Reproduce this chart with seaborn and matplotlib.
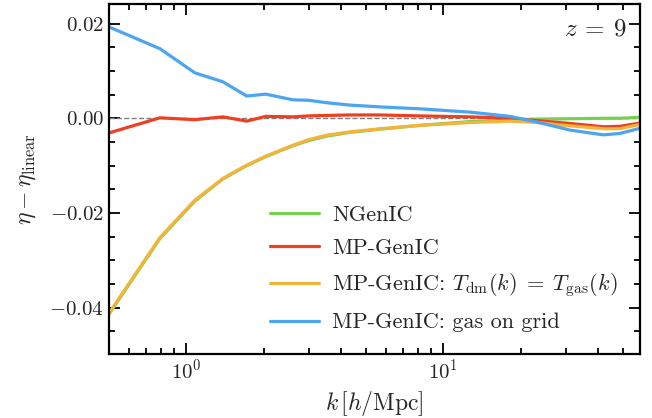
import numpy as np
import pandas as pd
import seaborn as sns
import matplotlib.pyplot as plt
from matplotlib.ticker import FuncFormatter, MultipleLocator

sns.set_theme(style="ticks")
plt.rcParams["font.family"] = "serif"
plt.rcParams["font.serif"] = ["cmr10", "DejaVu Serif"]
plt.rcParams["mathtext.fontset"] = "cm"
plt.rcParams["axes.formatter.use_mathtext"] = True

k = [0.5, 0.79, 1.08, 1.39, 1.72, 2.04, 2.6, 3.0, 3.5, 4.3, 5.7, 8.1,
     12.7, 18.2, 23.2, 31.2, 42.0, 48.8, 58.5]

ngenic = [-0.0414, -0.0254, -0.0175, -0.0128, -0.0100, -0.0081, -0.0058, -0.0047,
          -0.0038, -0.0030, -0.0023, -0.0015, -0.0007, -0.0004, -0.0002, -0.0001,
          0.0000, 0.0000, 0.0002]
mpgenic = [-0.0031, 0.0001, -0.0003, 0.0003, -0.0006, 0.0004, 0.0003, 0.0005,
           0.0006, 0.0007, 0.0007, 0.0005, 0.0003, 0.0000, -0.0005, -0.0011,
           -0.0018, -0.0017, -0.0010]
mpgenic_tdm = [-0.0412, -0.0252, -0.0173, -0.0127, -0.0099, -0.0080, -0.0057, -0.0045,
               -0.0036, -0.0029, -0.0022, -0.0015, -0.0009, -0.0006, -0.0009, -0.0016,
               -0.0022, -0.0022, -0.0013]
mpgenic_grid = [0.0193, 0.0147, 0.0096, 0.0077, 0.0047, 0.0051, 0.0039, 0.0038,
                0.0033, 0.0028, 0.0024, 0.0020, 0.0013, 0.0004, -0.0008, -0.0025,
                -0.0035, -0.0032, -0.0021]

labels = ["NGenIC", "MP-GenIC",
          r"MP-GenIC: $T_{\rm dm}(k)\;=\;T_{\rm gas}(k)$",
          "MP-GenIC: gas on grid"]
colors = ["#77d04f", "#ee3f22", "#f2b53a", "#4ba5f0"]

df = pd.concat([
    pd.DataFrame({"k": k, "eta": v, "run": lab})
    for v, lab in zip([ngenic, mpgenic, mpgenic_tdm, mpgenic_grid], labels)
])

fig = plt.figure(figsize=(6.52, 4.18), dpi=100)
ax = fig.add_axes([0.167, 0.153, 0.815, 0.837])

ax.axhline(0, color="gray", lw=1.0, ls="--", zorder=1)
sns.lineplot(data=df, x="k", y="eta", hue="run", hue_order=labels,
             palette=colors, lw=2.3, ax=ax, sort=False)

ax.set_xscale("log")
ax.set_xlim(0.5, 58.5)
ax.set_ylim(-0.0498, 0.0241)
ax.yaxis.set_major_locator(MultipleLocator(0.02))
ax.yaxis.set_minor_locator(MultipleLocator(0.005))
ax.yaxis.set_major_formatter(FuncFormatter(lambda v, p: f"${v:.2f}$"))

ax.tick_params(which="both", direction="in", top=True, right=True, width=1.3,
               labelsize=15, color="black")
ax.tick_params(which="major", length=8)
ax.tick_params(which="minor", length=4)
for s in ax.spines.values():
    s.set_linewidth(1.6)
    s.set_color("black")

ax.set_xlabel(r"$k\,[h/\mathrm{Mpc}]$", fontsize=17)
ax.set_ylabel(r"$\eta - \eta_{\rm linear}$", fontsize=17, labelpad=8)
ax.text(0.975, 0.96, r"$z\:=\:9$", transform=ax.transAxes, ha="right", va="top",
        fontsize=18)

ax.legend(loc="lower right", frameon=False, fontsize=16, handlelength=2.2,
          handletextpad=0.6, labelspacing=0.6, bbox_to_anchor=(0.995, 0.005))

fig.savefig("out.png", dpi=100)
